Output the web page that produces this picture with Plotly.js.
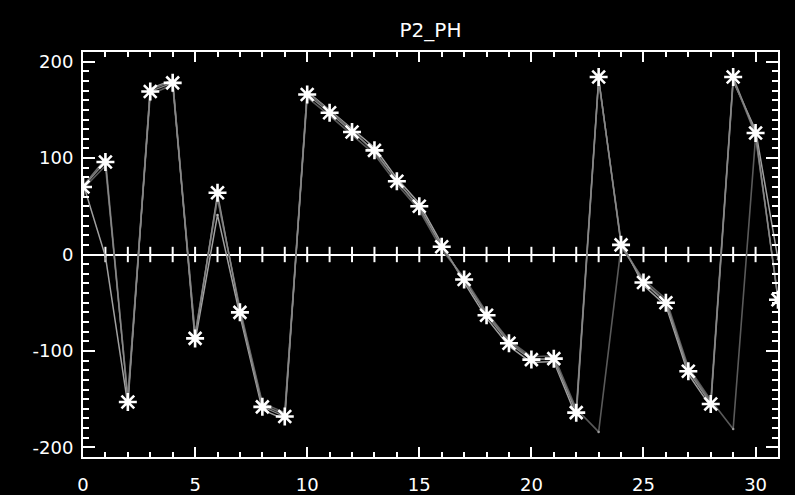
<!DOCTYPE html>
<html>
<head>
<meta charset="utf-8">
<script src="https://cdn.plot.ly/plotly-3.0.1.min.js"></script>
<style>html,body{margin:0;padding:0;background:#000;}#chart{width:795px;height:495px;}</style>
</head>
<body>
<div id="chart"></div>
<script>
// sample index
var xIdx = [0,1,2,3,4,5,6,7,8,9,10,11,12,13,14,15,16,17,18,19,20,21,22,23,24,25,26,27,28,29,30,31];
// main phase series (asterisks)
var phMain = [70,96,-153,169,178,-87,64,-60,-158,-168,166,147,127,108,76,50,8,-26,-63,-92,-109,-108,-164,184,10,-29,-50,-121,-155,184,126,-47];
// secondary runs (grey)
var phRunA = [68,92,-148,166,176,-83,58,-56,-154,-164,163,144,124,104,73,46,5,-24,-60,-89,-106,-105,-160,-184,8,-26,-46,-117,-151,-181,122,-44];
var phRunB = [74,-2,-156,172,181,-90,41,-63,-161,-171,169,150,130,111,79,53,11,-29,-66,-95,-112,-111,-168,181,13,-32,-53,-124,-158,180,129,-5];
var phRunC = [71,99,-150,171,180,-84,60,-58,-156,-166,168,149,129,106,77,48,9,-27,-61,-90,-108,-109,-162,182,11,-28,-49,-119,-153,182,124,-46];
// reference line level and its tick positions
var zeroTickX = [1,2,3,4,5,6,7,8,9,10,11,12,13,14,15,16,17,18,19,20,21,22,23,24,25,26,27,28,29,30];
var zeroLevel = zeroTickX.map(function(){return 0;});
var yTicks = [-200,-100,0,100,200];
var xTicks = [0,5,10,15,20,25,30];

var traces = [
  {x:zeroTickX, y:zeroLevel, mode:'markers', hoverinfo:'skip',
   marker:{symbol:'line-ns', size:11, color:'#ffffff', line:{color:'#ffffff', width:2}}},
  {x:xIdx, y:phRunA, mode:'lines+markers',
   line:{color:'#5a5a5a', width:1.6}, marker:{color:'#9a9a9a', size:2.5}, hoverinfo:'skip'},
  {x:xIdx, y:phRunB, mode:'lines+markers',
   line:{color:'#a0a0a0', width:1.5}, marker:{color:'#bbbbbb', size:2.5}, hoverinfo:'skip'},
  {x:xIdx, y:phRunC, mode:'lines+markers',
   line:{color:'#6e6e6e', width:1.6}, marker:{color:'#aaaaaa', size:2.5}, hoverinfo:'skip'},
  {x:xIdx, y:phMain, mode:'lines+markers',
   line:{color:'#8a8a8a', width:1.2},
   marker:{symbol:'asterisk-open', size:15, color:'#ffffff', line:{color:'#ffffff', width:2.6}}}
];

var axFont = {family:'DejaVu Sans, sans-serif', size:18, color:'#ffffff'};
var layout = {
  width:795, height:495,
  paper_bgcolor:'#000000', plot_bgcolor:'#000000',
  margin:{l:83, r:17, t:52, b:38},
  showlegend:false,
  title:{text:'P2_PH', x:0.5, xref:'paper', xanchor:'center', y:0.939, yref:'container', yanchor:'middle',
         font:{family:'DejaVu Sans, sans-serif', size:20, color:'#ffffff'}},
  xaxis:{range:[0,31], domain:[0,1], showgrid:false, zeroline:false,
         showline:true, linecolor:'#ffffff', linewidth:2, mirror:'ticks',
         ticks:'inside', tickvals:xTicks, ticktext:xTicks.map(String), ticklen:10, tickwidth:2, tickcolor:'#ffffff',
         minor:{dtick:1, tick0:0, ticks:'inside', ticklen:5, tickwidth:2, tickcolor:'#ffffff', showgrid:false},
         tickfont:axFont, ticklabelstandoff:10},
  yaxis:{range:[-210,210], domain:[0,1], showgrid:false,
         zeroline:true, zerolinecolor:'#ffffff', zerolinewidth:2,
         showline:true, linecolor:'#ffffff', linewidth:2, mirror:'ticks',
         ticks:'inside', tickvals:yTicks, ticktext:yTicks.map(String), ticklen:12, tickwidth:2, tickcolor:'#ffffff',
         minor:{dtick:10, tick0:0, ticks:'inside', ticklen:6, tickwidth:2, tickcolor:'#ffffff', showgrid:false},
         tickfont:axFont, ticklabelstandoff:4}
};
Plotly.newPlot('chart', traces, layout, {displayModeBar:false, staticPlot:true});
</script>
</body>
</html>
